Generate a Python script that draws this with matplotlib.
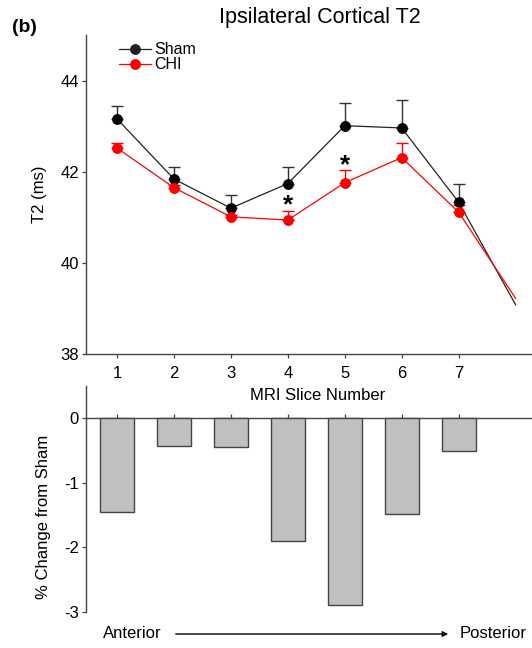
import matplotlib
matplotlib.use("Agg")
import matplotlib.pyplot as plt
import numpy as np
from matplotlib.lines import Line2D
from matplotlib.patches import FancyArrowPatch

plt.rcParams['font.family'] = ['Liberation Sans', 'DejaVu Sans']

slices = [1, 2, 3, 4, 5, 6, 7, 8]
sham = [43.16, 41.84, 41.20, 41.74, 43.01, 42.96, 41.33, 39.08]
sham_err = [0.28, 0.27, 0.29, 0.36, 0.49, 0.61, 0.40]
chi = [42.52, 41.65, 41.01, 40.94, 41.76, 42.31, 41.11, 39.22]
chi_err = [0.12, 0.06, 0.05, 0.19, 0.27, 0.32, 0.17]
star_slices = [4, 5]
star_y = [41.35, 42.24]
tick_slices = [1, 2, 3, 4, 5, 6, 7]
pct_change = [-1.46, -0.43, -0.45, -1.90, -2.89, -1.49, -0.51]

W, H = 532, 648
fig = plt.figure(figsize=(W / 100, H / 100), dpi=100)

def ax_rect(x0, y0, x1, y1):
    return [x0 / W, 1 - y1 / H, (x1 - x0) / W, (y1 - y0) / H]

FS = 12

# Top panel
ax = fig.add_axes(ax_rect(86, 35, 531, 354))
ax.patch.set_alpha(0)
n = len(tick_slices)
ax.plot(slices, sham, color='#222222', lw=0.9, zorder=3)
ax.plot(slices, chi, color='#ff0000', lw=0.9, zorder=3)
ax.errorbar(tick_slices, sham[:n], yerr=[np.zeros(n), sham_err], fmt='none',
            ecolor='#333333', elinewidth=1.0, capsize=4, capthick=1.0, zorder=2)
ax.errorbar(tick_slices, chi[:n], yerr=[np.zeros(n), chi_err], fmt='none',
            ecolor='#ff0000', elinewidth=1.0, capsize=4, capthick=1.0, zorder=2)
ax.plot(tick_slices, sham[:n], 'o', color='black', ms=6.8, zorder=4)
ax.plot(tick_slices, chi[:n], 'o', color='#ff0000', ms=6.8, zorder=4)
for xs, ys in zip(star_slices, star_y):
    ax.annotate('*', xy=(xs, ys), xytext=(0, -8), textcoords='offset points',
                ha='center', va='baseline', fontsize=19, fontweight='bold', color='black')

ax.set_xlim(0.456, 8.27)
ax.set_ylim(38, 45)
ax.set_xticks(tick_slices)
ax.set_yticks([38, 40, 42, 44])
ax.spines['top'].set_visible(False)
ax.spines['right'].set_visible(False)
for s in ['left', 'bottom']:
    ax.spines[s].set_color('#444444')
    ax.spines[s].set_linewidth(1.0)
ax.tick_params(axis='both', labelsize=FS, length=3, width=0.9, color='#444444', pad=2)
ax.tick_params(axis='x', pad=6)
ax.set_ylabel('T2 (ms)', fontsize=FS, labelpad=10)

handles = [Line2D([0], [0], color='#222222', marker='o', ms=6.8, lw=0.9),
           Line2D([0], [0], color='#ff0000', marker='o', ms=6.8, lw=0.9)]
ax.legend(handles, ['Sham', 'CHI'], loc='upper left', bbox_to_anchor=(0.05, 1.012),
          frameon=False, fontsize=11.5, handlelength=2.0, handletextpad=0.2,
          labelspacing=0.0, borderpad=0.2)

fig.text(320 / W, 1 - 17 / H, 'Ipsilateral Cortical T2', ha='center', va='center', fontsize=15.5)
fig.text(12 / W, 1 - 27 / H, '(b)', ha='left', va='center', fontsize=14, fontweight='bold')
fig.text(318 / W, 1 - 395 / H, 'MRI Slice Number', ha='center', va='center', fontsize=FS, zorder=10)

# Bottom panel
bx = fig.add_axes(ax_rect(86, 386, 531, 611.7))
bx.patch.set_alpha(0)
bx.bar(tick_slices, pct_change, width=0.6, color='#c0c0c0', edgecolor='#444444', linewidth=1.0, zorder=3)
bx.set_xlim(0.456, 8.27)
bx.set_ylim(-3, 0.5)
bx.set_yticks([0, -1, -2, -3])
bx.set_yticklabels(['0', '-1', '-2', '-3'])
bx.set_xticks(tick_slices)
bx.set_xticklabels([])
bx.spines['top'].set_visible(False)
bx.spines['right'].set_visible(False)
bx.spines['bottom'].set_position(('data', 0))
for s in ['left', 'bottom']:
    bx.spines[s].set_color('#444444')
    bx.spines[s].set_linewidth(1.0)
bx.tick_params(axis='x', direction='in', length=3, width=0.9, color='#444444')
bx.tick_params(axis='y', labelsize=FS, length=3, width=0.9, color='#444444', pad=2)
fig.text(44 / W, 1 - 517 / H, '% Change from Sham', ha='center', va='center',
         rotation=90, fontsize=FS)

fig.text(103 / W, 1 - 634 / H, 'Anterior', ha='left', va='center', fontsize=FS)
fig.text(527 / W, 1 - 634 / H, 'Posterior', ha='right', va='center', fontsize=FS)
fig.add_artist(FancyArrowPatch(
    (173 / W, 1 - 634 / H), (451 / W, 1 - 634 / H), transform=fig.transFigure,
    arrowstyle='-|>', mutation_scale=8, lw=1.0, color='black'))

fig.savefig('out.png', dpi=100)
